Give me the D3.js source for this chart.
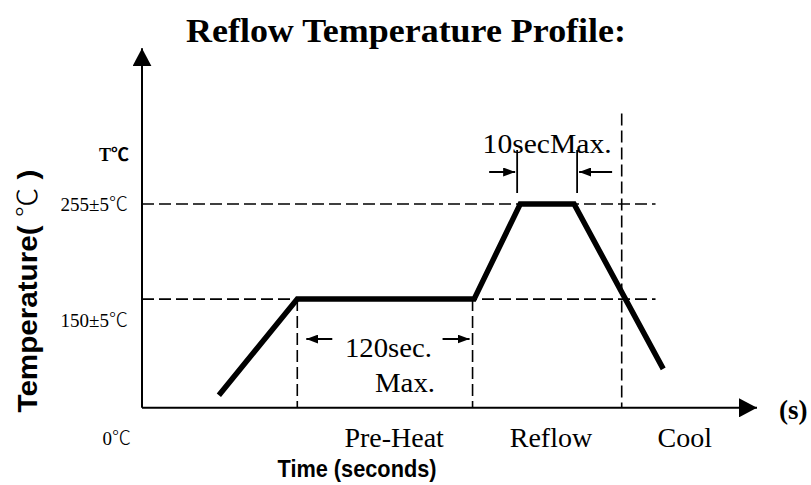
<!DOCTYPE html>
<html>
<head>
<meta charset="utf-8">
<script src="https://cdn.jsdelivr.net/npm/d3@7"></script>
<style>
	body { margin: 0; background: #fff; }
	.serif { font-family: "Liberation Serif", "Times New Roman", serif; }
	.sans { font-family: "Liberation Sans", Arial, sans-serif; font-weight: bold; }
	.cjk { font-family: "Noto Sans CJK SC", sans-serif; font-weight: 300; }
	.bold .cjk { font-weight: bold; }
</style>
</head>
<body>
<script>
// Width and height of chart
var width = 811;
var height = 485;

// Profile (schematic) - time in seconds, temperature in deg C
var profileTime = [50, 101, 216, 246, 281, 339];
var profileTemp = [44, 150, 150, 255, 255, 73];

// reference levels
var levelTemps = [255, 150];
var levelLabels = ["255±5℃", "150±5℃"];

// phase boundaries (dashed verticals) and labels
var boundaryTimes = [101, 215, 312];
var phaseLabels = ["Pre-Heat", "Reflow", "Cool"];
var phaseTimes = [164, 266, 353];

// annotated windows
var preheatWindow = [101, 215];
var reflowWindow = [244, 283];

var ambientTemp = 30;
var timeMax = 400;
var tempMax = 427;

// scales
var x = d3.scaleLinear().domain([0, timeMax]).range([142, 757]);
var y = d3.scaleLinear().domain([0, 255]).range([435, 204]);

var svg = d3.select("body")
			.append("svg")
			.attr("width", width)
			.attr("height", height);

// writes a string into a text node, putting the ℃ sign in a wide CJK font
function degText(sel, str) {
	var parts = str.split("℃");
	parts.forEach(function(p, i) {
		if (p.length) sel.append("tspan").text(p);
		if (i < parts.length - 1) sel.append("tspan").attr("class", "cjk").text("℃");
	});
	return sel;
}

// arrow heads
var defs = svg.append("defs");
defs.append("marker")
	.attr("id", "bigArrow")
	.attr("markerUnits", "userSpaceOnUse")
	.attr("viewBox", "0 0 18 19")
	.attr("refX", 18).attr("refY", 9.5)
	.attr("markerWidth", 18).attr("markerHeight", 19)
	.attr("orient", "auto")
	.append("path").attr("d", "M0,0L18,9.5L0,19Z").attr("fill", "#000");
defs.append("marker")
	.attr("id", "smallArrow")
	.attr("markerUnits", "userSpaceOnUse")
	.attr("viewBox", "0 0 12 9")
	.attr("refX", 12).attr("refY", 4.5)
	.attr("markerWidth", 12).attr("markerHeight", 9)
	.attr("orient", "auto")
	.append("path").attr("d", "M0,0L12,4.5L0,9Z").attr("fill", "#000");

// dashed level lines
svg.selectAll(".level")
	.data(levelTemps)
	.enter()
	.append("line")
	.attr("class", "level")
	.attr("x1", x(0)).attr("x2", x(334))
	.attr("y1", function(d) { return y(d); })
	.attr("y2", function(d) { return y(d); })
	.style("stroke", "#000")
	.style("stroke-width", 1.6)
	.style("stroke-dasharray", "12,5");

// dashed phase boundaries
svg.selectAll(".bound")
	.data(boundaryTimes)
	.enter()
	.append("line")
	.attr("class", "bound")
	.attr("x1", function(d) { return x(d); })
	.attr("x2", function(d) { return x(d); })
	.attr("y1", function(d, i) { return i < 2 ? y(150) : y(355); })
	.attr("y2", y(ambientTemp))
	.style("stroke", "#000")
	.style("stroke-width", 1.6)
	.style("stroke-dasharray", "12,5");

// axes
svg.append("line")
	.attr("x1", x(0)).attr("y1", y(ambientTemp))
	.attr("x2", x(0)).attr("y2", y(tempMax))
	.style("stroke", "#000").style("stroke-width", 2)
	.attr("marker-end", "url(#bigArrow)");
svg.append("line")
	.attr("x1", x(0)).attr("y1", y(ambientTemp))
	.attr("x2", x(timeMax)).attr("y2", y(ambientTemp))
	.style("stroke", "#000").style("stroke-width", 2)
	.attr("marker-end", "url(#bigArrow)");

// profile line
var line = d3.line()
	.x(function(d) { return x(d[0]); })
	.y(function(d) { return y(d[1]); });
svg.append("path")
	.attr("d", line(d3.zip(profileTime, profileTemp)))
	.style("fill", "none")
	.style("stroke", "#000")
	.style("stroke-width", 5.5)
	.style("stroke-linejoin", "miter");

// 120 sec window arrows
var yPre = 339;
svg.append("line")
	.attr("x1", x(preheatWindow[0]) + 35).attr("x2", x(preheatWindow[0]) + 9)
	.attr("y1", yPre).attr("y2", yPre)
	.style("stroke", "#000").style("stroke-width", 2)
	.attr("marker-end", "url(#smallArrow)");
svg.append("line")
	.attr("x1", x(preheatWindow[1]) - 30).attr("x2", x(preheatWindow[1]) - 3)
	.attr("y1", yPre).attr("y2", yPre)
	.style("stroke", "#000").style("stroke-width", 2)
	.attr("marker-end", "url(#smallArrow)");

// 10 sec window markers
svg.selectAll(".tick10")
	.data(reflowWindow)
	.enter()
	.append("line")
	.attr("class", "tick10")
	.attr("x1", function(d) { return x(d); })
	.attr("x2", function(d) { return x(d); })
	.attr("y1", 150).attr("y2", 193)
	.style("stroke", "#000").style("stroke-width", 1.8);
var yRef = 172;
svg.append("line")
	.attr("x1", x(reflowWindow[0]) - 28).attr("x2", x(reflowWindow[0]) - 2)
	.attr("y1", yRef).attr("y2", yRef)
	.style("stroke", "#000").style("stroke-width", 2)
	.attr("marker-end", "url(#smallArrow)");
svg.append("line")
	.attr("x1", x(reflowWindow[1]) + 35).attr("x2", x(reflowWindow[1]) + 2)
	.attr("y1", yRef).attr("y2", yRef)
	.style("stroke", "#000").style("stroke-width", 2)
	.attr("marker-end", "url(#smallArrow)");

// texts
svg.append("text")
	.attr("class", "serif")
	.attr("x", 406).attr("y", 42)
	.attr("text-anchor", "middle")
	.attr("textLength", 440).attr("lengthAdjust", "spacingAndGlyphs")
	.style("font-size", "34px").style("font-weight", "bold")
	.text("Reflow Temperature Profile:");

svg.append("text")
	.attr("class", "serif")
	.attr("x", (x(reflowWindow[0]) + x(reflowWindow[1])) / 2).attr("y", 153)
	.attr("text-anchor", "middle")
	.attr("textLength", 129).attr("lengthAdjust", "spacingAndGlyphs")
	.style("font-size", "28px")
	.text("10secMax.");

svg.append("text")
	.attr("class", "serif")
	.attr("x", 345).attr("y", 357)
	.attr("textLength", 87).attr("lengthAdjust", "spacingAndGlyphs")
	.style("font-size", "28px")
	.text("120sec.");
svg.append("text")
	.attr("class", "serif")
	.attr("x", 375).attr("y", 392)
	.attr("textLength", 60).attr("lengthAdjust", "spacingAndGlyphs")
	.style("font-size", "28px")
	.text("Max.");

// y labels
degText(svg.append("text")
	.attr("class", "serif bold")
	.attr("x", 129).attr("y", 161)
	.attr("text-anchor", "end")
	.style("font-size", "18px").style("font-weight", "bold"), "T℃");
svg.selectAll(".ylab")
	.data(levelTemps)
	.enter()
	.append("text")
	.attr("class", "serif ylab")
	.attr("x", 128)
	.attr("y", function(d, i) { return y(d) + (i == 0 ? 7 : 28); })
	.attr("text-anchor", "end")
	.style("font-size", "19px")
	.each(function(d, i) { degText(d3.select(this), levelLabels[i]); });
degText(svg.append("text")
	.attr("class", "serif")
	.attr("x", 131).attr("y", y(0) + 10)
	.attr("text-anchor", "end")
	.style("font-size", "19px"), "0℃");

// phase labels
svg.selectAll(".phase")
	.data(phaseLabels)
	.enter()
	.append("text")
	.attr("class", "serif phase")
	.attr("x", function(d, i) { return x(phaseTimes[i]); })
	.attr("y", 447)
	.attr("text-anchor", "middle")
	.style("font-size", "28px")
	.text(function(d) { return d; });

svg.append("text")
	.attr("class", "serif")
	.attr("x", 779).attr("y", 419)
	.style("font-size", "27px").style("font-weight", "bold")
	.text("(s)");

// axis titles
svg.append("text")
	.attr("class", "sans")
	.attr("x", 357).attr("y", 477)
	.attr("text-anchor", "middle")
	.attr("textLength", 159).attr("lengthAdjust", "spacingAndGlyphs")
	.style("font-size", "24px")
	.text("Time (seconds)");

degText(svg.append("text")
	.attr("class", "sans")
	.attr("transform", "translate(37,291) rotate(-90)")
	.attr("text-anchor", "middle")
	.attr("textLength", 243).attr("lengthAdjust", "spacingAndGlyphs")
	.style("font-size", "27px"), "Temperature( ℃ )");
</script>
</body>
</html>
